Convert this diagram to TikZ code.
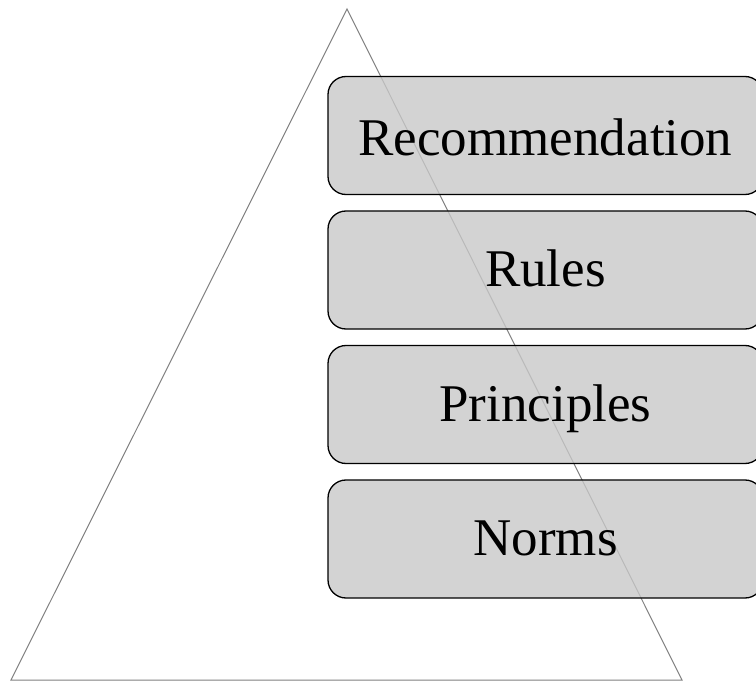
\documentclass[tikz,border=0pt]{standalone}
\usepackage{fontspec}
\setmainfont{Liberation Serif}
\begin{document}
\begin{tikzpicture}[x=1pt,y=-1pt,
  tri/.style={draw={rgb,255:red,128;green,128;blue,128}, line width=1pt},
  levelbox/.style={draw=black, line width=1.3pt, rounded corners=18pt,
    fill={rgb,255:red,200;green,200;blue,200}, fill opacity=0.8, text opacity=1,
    minimum width=435pt, minimum height=118pt, inner sep=0pt,
    text height=33pt, text depth=0pt,
    font=\fontsize{53}{60}\selectfont}]
\useasboundingbox (0,0) rectangle (756,682);
\coordinate (apex) at (347,9);
\coordinate (bl) at (11,680);
\coordinate (br) at (682,680);
\draw[tri] (apex) -- (bl) -- (br) -- cycle;
\node[levelbox, text height=40pt] (rec) at (545.5,135.5) {Recommendation};
\node[levelbox] (rules) at (545.5,270) {Rules};
\node[levelbox] (princ) at (545.5,404.5) {Principles};
\node[levelbox] (norms) at (545.5,539) {Norms};
\end{tikzpicture}
\end{document}
